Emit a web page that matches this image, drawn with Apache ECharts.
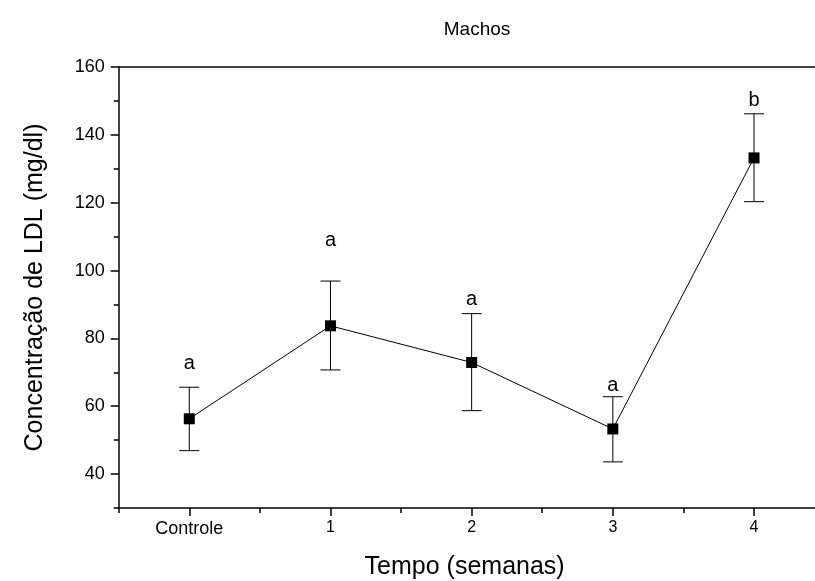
<!DOCTYPE html>
<html>
<head>
<meta charset="utf-8">
<script src="https://cdn.jsdelivr.net/npm/echarts@6/dist/echarts.min.js"></script>
<style>
    html, body { margin: 0; padding: 0; background: #fff; }
    #chart { width: 815px; height: 581px; }
</style>
</head>
<body>
<div id="chart"></div>
<script>
// categorias do eixo x
var categories = ['Controle', '1', '2', '3', '4'];
// média da concentração de LDL (mg/dl)
var ldlMean = [56.3, 83.7, 72.9, 53.3, 133.2];
// limites superior e inferior das barras de erro
var ldlHigh = [65.6, 96.9, 87.3, 62.8, 146.2];
var ldlLow = [46.9, 70.7, 58.7, 43.6, 120.3];
// letras de significância e a altura (mg/dl) onde aparecem
var letters = ['a', 'a', 'a', 'a', 'b'];
var letterY = [72.7, 109, 91.6, 66, 150];
// marcas principais do eixo y
var yTicks = [40, 60, 80, 100, 120, 140, 160];

var font = 'Liberation Sans, Arial, sans-serif';
var myChart = echarts.init(document.getElementById('chart'));

var option = {
    backgroundColor: '#fff',
    animation: false,
    title: {
        text: 'Machos',
        left: 472,
        top: 15,
        textAlign: 'center',
        textStyle: { fontFamily: font, fontSize: 19, fontWeight: 'normal', color: '#000' }
    },
    grid: {
        left: 118.7,
        top: 67,
        bottom: 73,
        right: -9.6,
        containLabel: false,
        outerBoundsMode: 'none'
    },
    xAxis: [{
        type: 'category',
        data: categories,
        position: 'bottom',
        boundaryGap: true,
        name: 'Tempo (semanas)',
        nameLocation: 'middle',
        nameGap: 47,
        nameTextStyle: { fontFamily: font, fontSize: 25, color: '#000', padding: [0, 14, 0, 0] },
        axisLine: { show: true, lineStyle: { color: '#000', width: 1.5 } },
        axisTick: { show: true, alignWithLabel: true, length: 8, lineStyle: { color: '#000', width: 1.5 } },
        axisLabel: {
            margin: 12,
            color: '#000',
            fontFamily: font,
            formatter: function (val) {
                return val === 'Controle' ? '{c|' + val + '}' : '{n|' + val + '}';
            },
            rich: {
                c: { fontSize: 18, fontFamily: font, color: '#000' },
                n: { fontSize: 16, fontFamily: font, color: '#000' }
            }
        },
        splitLine: { show: false }
    }, {
        // marcas menores entre as categorias
        type: 'category',
        data: categories,
        position: 'bottom',
        boundaryGap: true,
        axisLine: { show: false },
        axisTick: { show: true, length: 5, lineStyle: { color: '#000', width: 1.5 } },
        axisLabel: { show: false },
        splitLine: { show: false }
    }, {
        // linha superior do quadro
        type: 'category',
        data: categories,
        position: 'top',
        axisLine: { show: true, lineStyle: { color: '#000', width: 1.5 } },
        axisTick: { show: false },
        axisLabel: { show: false },
        splitLine: { show: false }
    }],
    yAxis: [{
        type: 'value',
        min: 30,
        max: 160,
        position: 'left',
        name: 'Concentração de LDL (mg/dl)',
        nameLocation: 'middle',
        nameGap: 71,
        nameTextStyle: { fontFamily: font, fontSize: 25, color: '#000' },
        axisLine: { show: true, lineStyle: { color: '#000', width: 1.5 } },
        axisTick: { show: true, customValues: yTicks, length: 8, lineStyle: { color: '#000', width: 1.5 } },
        axisLabel: { customValues: yTicks, margin: 14, color: '#000', fontFamily: font, fontSize: 18 },
        splitLine: { show: false }
    }, {
        // marcas menores do eixo y (a cada 10)
        type: 'value',
        min: 30,
        max: 160,
        interval: 10,
        position: 'left',
        axisLine: { show: false },
        axisTick: { show: true, length: 5, lineStyle: { color: '#000', width: 1.5 } },
        axisLabel: { show: false },
        splitLine: { show: false }
    }],
    series: [{
        // barras de erro
        type: 'custom',
        z: 2,
        renderItem: function (params, api) {
            var x = api.value(0);
            var hi = api.coord([x, api.value(1)]);
            var lo = api.coord([x, api.value(2)]);
            var half = 10;
            var style = { stroke: '#000', lineWidth: 1 };
            return {
                type: 'group',
                children: [
                    { type: 'line', shape: { x1: hi[0], y1: hi[1], x2: lo[0], y2: lo[1] }, style: style },
                    { type: 'line', shape: { x1: hi[0] - half, y1: hi[1], x2: hi[0] + half, y2: hi[1] }, style: style },
                    { type: 'line', shape: { x1: lo[0] - half, y1: lo[1], x2: lo[0] + half, y2: lo[1] }, style: style }
                ]
            };
        },
        encode: { x: 0, y: [1, 2] },
        data: categories.map(function (c, i) { return [i, ldlHigh[i], ldlLow[i]]; })
    }, {
        type: 'line',
        z: 3,
        symbol: 'rect',
        symbolSize: 11,
        showSymbol: true,
        lineStyle: { color: '#000', width: 1 },
        itemStyle: { color: '#000' },
        data: ldlMean
    }, {
        // letras acima das barras
        type: 'scatter',
        z: 4,
        symbolSize: 0,
        itemStyle: { opacity: 1 },
        label: {
            show: true,
            position: 'inside',
            color: '#000',
            opacity: 1,
            textBorderWidth: 0,
            fontFamily: font,
            fontSize: 20,
            formatter: function (p) { return letters[p.dataIndex]; }
        },
        data: categories.map(function (c, i) { return [i, letterY[i]]; })
    }]
};

myChart.setOption(option);
</script>
</body>
</html>
